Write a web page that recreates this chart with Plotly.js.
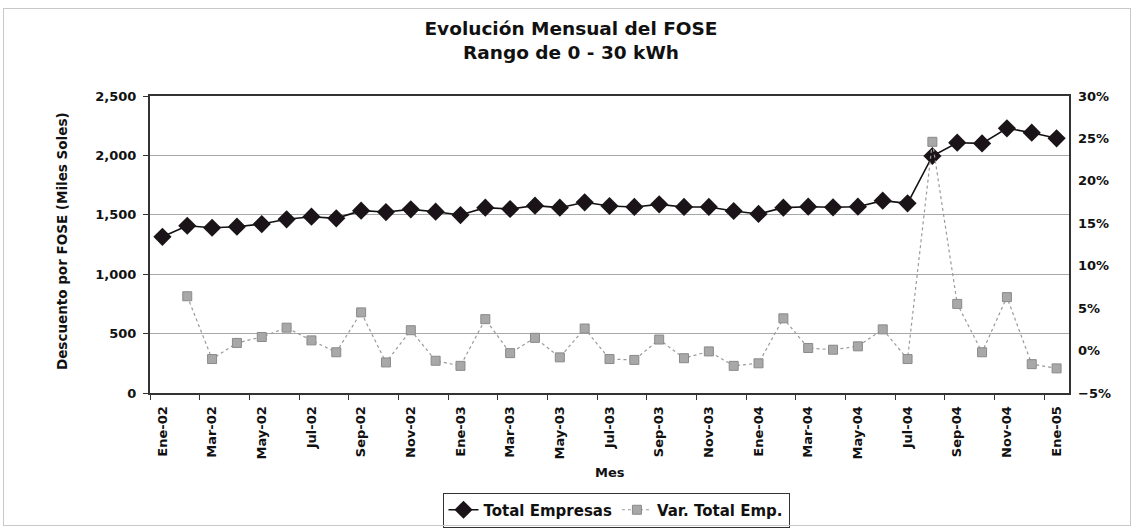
<!DOCTYPE html>
<html>
<head>
<meta charset="utf-8">
<script src="https://cdn.plot.ly/plotly-3.0.1.min.js"></script>
<style>
  html, body { margin: 0; padding: 0; background: #fff; }
  #wrap { position: relative; width: 1136px; height: 531px; }
  #chart { width: 1136px; height: 531px; }
  #frame { position: absolute; left: 3px; top: 8px; width: 1126px; height: 516px; border: 1px solid #c8c8c8; pointer-events: none; }
</style>
</head>
<body>
<div id="wrap">
  <div id="chart"></div>
  <div id="frame"></div>
</div>
<script>
const months = [
  "Ene-02","Feb-02","Mar-02","Abr-02","May-02","Jun-02","Jul-02","Ago-02","Sep-02","Oct-02","Nov-02","Dic-02",
  "Ene-03","Feb-03","Mar-03","Abr-03","May-03","Jun-03","Jul-03","Ago-03","Sep-03","Oct-03","Nov-03","Dic-03",
  "Ene-04","Feb-04","Mar-04","Abr-04","May-04","Jun-04","Jul-04","Ago-04","Sep-04","Oct-04","Nov-04","Dic-04",
  "Ene-05"
];
const totalEmpresas = [
  1315, 1408, 1391, 1400, 1422, 1462, 1484, 1470, 1535, 1523, 1546, 1526,
  1498, 1560, 1549, 1577, 1560, 1605, 1574, 1566, 1588, 1566, 1566, 1532,
  1507, 1560, 1568, 1563, 1568, 1619, 1597, 1995, 2107, 2101, 2228, 2191,
  2144
];
const varTotalEmp = [
  null, 0.064, -0.010, 0.009, 0.016, 0.027, 0.012, -0.002, 0.045, -0.014, 0.024, -0.012,
  -0.018, 0.037, -0.003, 0.015, -0.008, 0.026, -0.010, -0.011, 0.013, -0.009, -0.001, -0.018,
  -0.015, 0.038, 0.003, 0.001, 0.005, 0.025, -0.010, 0.246, 0.055, -0.002, 0.063, -0.016,
  -0.021
];
const seriesNames = ["Total Empresas", "Var. Total Emp."];
const titleLines = ["Evolución Mensual del FOSE", "Rango de 0 - 30 kWh"];
const yTitle = "Descuento por FOSE (Miles Soles)";
const xTitle = "Mes";

const xIdx = months.map((m, i) => i);
const labelIdx = xIdx.filter(i => i % 2 === 0);
const FONT = "DejaVu Sans, Liberation Sans, Arial, sans-serif";
const tickFont = { family: FONT, size: 13, color: "#111111", weight: "bold" };

const traces = [
  {
    x: xIdx, y: totalEmpresas, name: seriesNames[0], type: "scatter", mode: "lines+markers",
    line: { color: "#111111", width: 1.6 },
    marker: { symbol: "diamond", size: 14, color: "#1a1418", line: { width: 0 } },
    cliponaxis: false
  },
  {
    x: xIdx, y: varTotalEmp, name: seriesNames[1], type: "scatter", mode: "lines+markers", yaxis: "y2",
    line: { color: "#9a9a9a", width: 1.2, dash: "dot" },
    marker: { symbol: "square", size: 9, color: "#a8a8a8", line: { color: "#8a8a8a", width: 1 } },
    connectgaps: false, cliponaxis: false
  }
];

const layout = {
  width: 1136, height: 531,
  margin: { l: 150, r: 67, t: 96, b: 138 },
  paper_bgcolor: "#ffffff", plot_bgcolor: "#ffffff",
  font: { family: FONT, color: "#111111" },
  showlegend: true,
  title: {
    text: titleLines.join("<br>"),
    font: { family: FONT, size: 18.5, color: "#111111", weight: "bold" },
    x: 571 / 1136, xanchor: "center", xref: "container",
    y: 1 - 35 / 531, yanchor: "middle", yref: "container"
  },
  xaxis: {
    range: [-0.5, months.length - 0.5],
    tickmode: "array", tickvals: labelIdx, ticktext: labelIdx.map(i => months[i]),
    tickangle: -90, ticks: "", tickfont: tickFont, ticklabelstandoff: 6,
    showgrid: false, zeroline: false,
    showline: true, linecolor: "#333333", linewidth: 2, mirror: true,
    minor: { tickmode: "linear", tick0: -0.5, dtick: 2, ticks: "outside", ticklen: 5, tickcolor: "#333333", tickwidth: 1, showgrid: false }
  },
  yaxis: {
    range: [0, 2500], dtick: 500, tick0: 0, tickformat: ",d",
    ticks: "outside", ticklen: 5, tickcolor: "#333333",
    tickfont: tickFont,
    showgrid: true, gridcolor: "#a8a8a8", gridwidth: 1,
    zeroline: false, showline: true, linecolor: "#333333", linewidth: 2, mirror: true,
    ticklabelstandoff: 4
  },
  yaxis2: {
    overlaying: "y", side: "right",
    range: [-0.05, 0.30], dtick: 0.05, tick0: 0, tickformat: ".0%",
    ticks: "", tickfont: tickFont, ticklabelstandoff: 8,
    showgrid: false, zeroline: false, showline: false
  },
  legend: {
    orientation: "h", x: 616 / 1136, xanchor: "center", xref: "container",
    y: 1 - 510 / 531, yanchor: "middle", yref: "container",
    bordercolor: "#333333", borderwidth: 1, bgcolor: "#ffffff",
    font: { family: FONT, size: 15, color: "#111111", weight: "bold" },
    itemwidth: 30, tracegroupgap: 0
  },
  annotations: [
    {
      text: yTitle, textangle: -90,
      xref: "paper", yref: "paper", x: (62 - 150) / 919, y: (393 - 241) / 297,
      xanchor: "center", yanchor: "middle", showarrow: false,
      font: { family: FONT, size: 13.5, color: "#111111", weight: "bold" }
    },
    {
      text: xTitle,
      xref: "paper", yref: "paper", x: (610 - 150) / 919, y: (393 - 472) / 297,
      xanchor: "center", yanchor: "middle", showarrow: false,
      font: { family: FONT, size: 13, color: "#111111", weight: "bold" }
    }
  ]
};

Plotly.newPlot("chart", traces, layout, { displayModeBar: false, staticPlot: true });
</script>
</body>
</html>
